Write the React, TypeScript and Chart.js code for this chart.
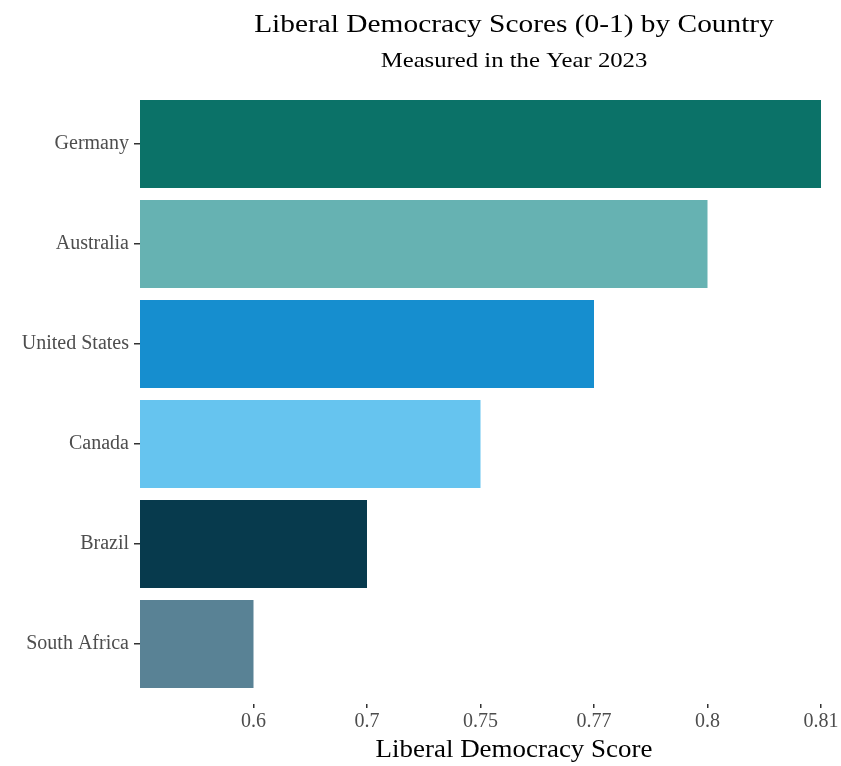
import React, { useEffect, useRef } from "react";
import { Chart, registerables } from "chart.js";

Chart.register(...registerables);

const countries = ["Germany", "Australia", "United States", "Canada", "Brazil", "South Africa"];
const scores = [0.81, 0.8, 0.77, 0.75, 0.7, 0.6];
const tickLabels = ["0.6", "0.7", "0.75", "0.77", "0.8", "0.81"];
const barColors = ["#0b7268", "#66b2b2", "#168ecf", "#66c4ef", "#073a4d", "#598295"];

const titleText = "Liberal Democracy Scores (0-1) by Country";
const subtitleText = "Measured in the Year 2023";
const xTitleText = "Liberal Democracy Score";

const FONT = "'Liberation Serif', 'Times New Roman', serif";

function stretchedText(ctx: any, text: string, cx: number, baseline: number, size: number, sx: number) {
  ctx.save();
  ctx.font = `${size}px ${FONT}`;
  ctx.textAlign = "center";
  ctx.textBaseline = "alphabetic";
  ctx.fillStyle = "#000";
  ctx.translate(cx, baseline);
  ctx.scale(sx, 1);
  ctx.fillText(text, 0, 0);
  ctx.restore();
}

const textPlugin = {
  id: "textPlugin",
  afterDraw(chart: any) {
    const ctx = chart.ctx;
    const cx = 514;
    stretchedText(ctx, titleText, cx, 32, 26, 1.13);
    stretchedText(ctx, subtitleText, cx, 67, 21.5, 1.15);
    stretchedText(ctx, xTitleText, cx, 757, 24.5, 1.1);
  },
};

export default function App() {
  const ref = useRef<HTMLCanvasElement | null>(null);
  useEffect(() => {
    if (!ref.current) return;
    const points = scores.map((s, i) => ({ x: tickLabels.indexOf(String(s)) + 1, y: i }));
    const chart = new Chart(ref.current, {
      type: "bar",
      data: {
        datasets: [
          {
            data: points,
            backgroundColor: barColors,
            borderWidth: 0,
            barPercentage: 0.88,
            categoryPercentage: 1,
          },
        ],
      },
      plugins: [textPlugin],
      options: {
        indexAxis: "y",
        animation: false,
        responsive: false,
        maintainAspectRatio: false,
        layout: { padding: { top: 84, right: 20, left: 0, bottom: 0 } },
        plugins: {
          legend: { display: false },
          title: { display: false },
          tooltip: { enabled: false },
        },
        scales: {
          x: {
            type: "linear",
            min: 0,
            max: 6,
            afterBuildTicks: (scale: any) => {
              scale.ticks = tickLabels.map((_, i) => ({ value: i + 1 }));
            },
            afterFit: (scale: any) => {
              scale.height = 62;
            },
            ticks: {
              autoSkip: false,
              maxRotation: 0,
              padding: 2,
              color: "#4d4d4d",
              font: { family: FONT, size: 20 },
              callback: (v: any) => tickLabels[Number(v) - 1] ?? "",
            },
            grid: {
              drawOnChartArea: false,
              drawTicks: true,
              tickLength: 4,
              color: "#333",
              lineWidth: 1.5,
            },
            border: { display: false },
          },
          y: {
            type: "linear",
            reverse: true,
            offset: false,
            min: -0.6,
            max: 5.6,
            afterBuildTicks: (scale: any) => {
              scale.ticks = countries.map((_, i) => ({ value: i }));
            },
            afterFit: (scale: any) => {
              scale.width = 140;
            },
            ticks: {
              autoSkip: false,
              padding: 5,
              color: "#4d4d4d",
              font: { family: FONT, size: 20 },
              callback: (v: any) => countries[Number(v)] ?? "",
            },
            grid: {
              offset: false,
              drawOnChartArea: false,
              drawTicks: true,
              tickLength: 6,
              color: "#333",
              lineWidth: 1.5,
            },
            border: { display: false },
          },
        },
      },
    } as any);
    return () => chart.destroy();
  }, []);
  return (
    <div style={{ position: "fixed", left: 0, top: 0, width: 841, height: 766, background: "#fff" }}>
      <canvas ref={ref} width={841} height={766} style={{ display: "block" }} />
    </div>
  );
}
